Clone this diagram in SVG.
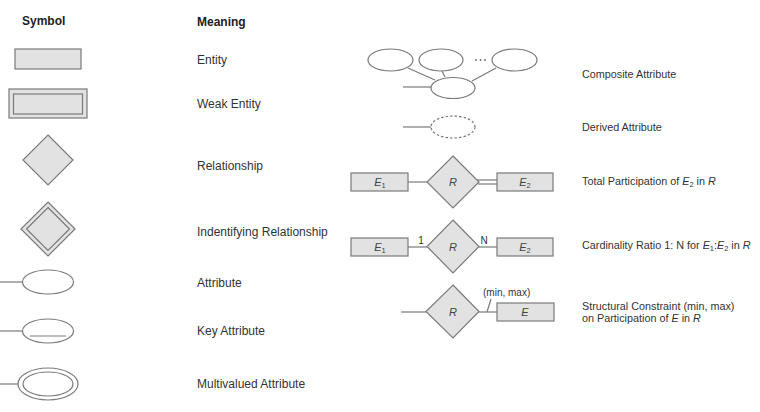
<svg xmlns="http://www.w3.org/2000/svg" width="760" height="412" viewBox="0 0 760 412">
<style>
text{font-family:"Liberation Sans",Arial,sans-serif;fill:#333}
.h{font-size:12px;font-weight:bold;fill:#222}
.m{font-size:12px}
.d{font-size:10.8px}
.s{fill:#e2e2e2;stroke:#7a7a7a;stroke-width:1.2}
.n{fill:none;stroke:#7a7a7a;stroke-width:1.2}
.w{fill:#fff;stroke:#7a7a7a;stroke-width:1.2}
.l{stroke:#7a7a7a;stroke-width:1.2;fill:none}
.i{font-style:italic;font-size:11px;fill:#444}
.sub{font-size:7.5px;font-style:normal}
.dot{fill:#666}
</style>
<text class="h" x="22" y="25">Symbol</text>
<text class="h" x="197" y="26">Meaning</text>

<g id="entity"><rect class="s" x="15" y="49" width="66" height="20"/></g>
<g id="weak-entity"><rect class="s" x="9" y="89" width="78" height="29"/><rect class="n" x="13.5" y="94" width="69" height="20"/></g>
<g id="relationship"><polygon class="s" points="48,135 73,160 48,185 23,160"/></g>
<g id="identifying-relationship"><polygon class="s" points="48,202 75,229 48,256 21,229"/><polygon class="n" points="48,207.5 69.5,229 48,250.5 26.5,229"/></g>
<g id="attribute"><ellipse class="w" cx="48" cy="282" rx="25.5" ry="12"/></g>
<g id="key-attribute"><ellipse class="w" cx="48" cy="331" rx="25.5" ry="12"/><line class="l" x1="30" y1="336" x2="66" y2="336"/></g>
<g id="multivalued-attribute"><ellipse class="w" cx="48" cy="384" rx="30" ry="16"/><ellipse class="n" cx="48" cy="384" rx="25" ry="12"/></g>

<text class="m" x="197" y="64">Entity</text>
<text class="m" x="197" y="108">Weak Entity</text>
<text class="m" x="197" y="170">Relationship</text>
<text class="m" x="197" y="236">Indentifying Relationship</text>
<text class="m" x="197" y="287">Attribute</text>
<text class="m" x="197" y="335">Key Attribute</text>
<text class="m" x="197" y="388">Multivalued Attribute</text>

<g id="connectors">
<line class="l" x1="0" y1="282" x2="22.5" y2="282"/>
<line class="l" x1="0" y1="331" x2="22.5" y2="331"/>
<line class="l" x1="0" y1="384" x2="18" y2="384"/>
<line class="l" x1="408" y1="68" x2="435" y2="80"/>
<line class="l" x1="442" y1="71" x2="445" y2="77"/>
<line class="l" x1="496" y1="68" x2="472" y2="81"/>
<line class="l" x1="403" y1="87" x2="431" y2="87"/>
<line class="l" x1="403" y1="127" x2="431" y2="127"/>
<line class="l" x1="408" y1="182" x2="427" y2="182"/>
<line class="l" x1="477" y1="180" x2="497" y2="180"/>
<line class="l" x1="478" y1="184" x2="497" y2="184"/>
<line class="l" x1="408" y1="247" x2="427" y2="247"/>
<line class="l" x1="479" y1="247" x2="497" y2="247"/>
<line class="l" x1="401" y1="312" x2="426" y2="312"/>
<line class="l" x1="479" y1="312" x2="497" y2="312"/>
<line class="l" x1="487" y1="312" x2="491" y2="299"/>
</g>

<g id="composite">
<ellipse class="w" cx="390.5" cy="60" rx="22.5" ry="11"/>
<ellipse class="w" cx="441" cy="60" rx="22" ry="11"/>
<ellipse class="w" cx="514.5" cy="60" rx="22.5" ry="11"/>
<ellipse class="w" cx="453" cy="88" rx="22" ry="10.5"/>
<circle class="dot" cx="476" cy="60" r="0.9"/>
<circle class="dot" cx="480.5" cy="60" r="0.9"/>
<circle class="dot" cx="485" cy="60" r="0.9"/>
</g>
<g id="derived"><ellipse cx="453" cy="127" rx="22" ry="11" fill="#fff" stroke="#7a7a7a" stroke-width="1.2" stroke-dasharray="2.5,2"/></g>

<g id="total-participation">
<rect class="s" x="351" y="173" width="57" height="18"/>
<text class="i" x="380" y="186" text-anchor="middle">E<tspan class="sub" dy="2">1</tspan></text>
<polygon class="s" points="453,156 479,182 453,208 427,182"/>
<text class="i" x="453" y="186" text-anchor="middle">R</text>
<rect class="s" x="497" y="173" width="56" height="18"/>
<text class="i" x="525" y="186" text-anchor="middle">E<tspan class="sub" dy="2">2</tspan></text>
</g>

<g id="cardinality">
<rect class="s" x="351" y="238" width="57" height="18"/>
<text class="i" x="380" y="251" text-anchor="middle">E<tspan class="sub" dy="2">1</tspan></text>
<polygon class="s" points="453,220 479,246.5 453,273 427,246.5"/>
<text class="i" x="453" y="251" text-anchor="middle">R</text>
<rect class="s" x="497" y="238" width="56" height="18"/>
<text class="i" x="525" y="251" text-anchor="middle">E<tspan class="sub" dy="2">2</tspan></text>
<text x="421" y="244" style="font-size:10px" text-anchor="middle">1</text>
<text x="484" y="244" style="font-size:10px" text-anchor="middle">N</text>
</g>

<g id="structural">
<polygon class="s" points="453,285 479,311.5 453,338 426,311.5"/>
<text class="i" x="453" y="316" text-anchor="middle">R</text>
<rect class="s" x="497" y="303" width="57" height="18"/>
<text class="i" x="525" y="316" text-anchor="middle">E</text>
<text x="483" y="296" style="font-size:10px">(min, max)</text>
</g>

<text class="d" x="582" y="78">Composite Attribute</text>
<text class="d" x="582" y="131">Derived Attribute</text>
<text class="d" x="582" y="185">Total Participation of <tspan font-style="italic">E</tspan><tspan class="sub" dy="2">2</tspan><tspan dy="-2"> in </tspan><tspan font-style="italic">R</tspan></text>
<text class="d" x="582" y="249">Cardinality Ratio 1: N for <tspan font-style="italic">E</tspan><tspan class="sub" dy="2">1</tspan><tspan dy="-2">:</tspan><tspan font-style="italic">E</tspan><tspan class="sub" dy="2">2</tspan><tspan dy="-2"> in </tspan><tspan font-style="italic">R</tspan></text>
<text class="d" x="582" y="310">Structural Constraint (min, max)</text>
<text class="d" x="582" y="322">on Participation of <tspan font-style="italic">E</tspan> in <tspan font-style="italic">R</tspan></text>
</svg>
